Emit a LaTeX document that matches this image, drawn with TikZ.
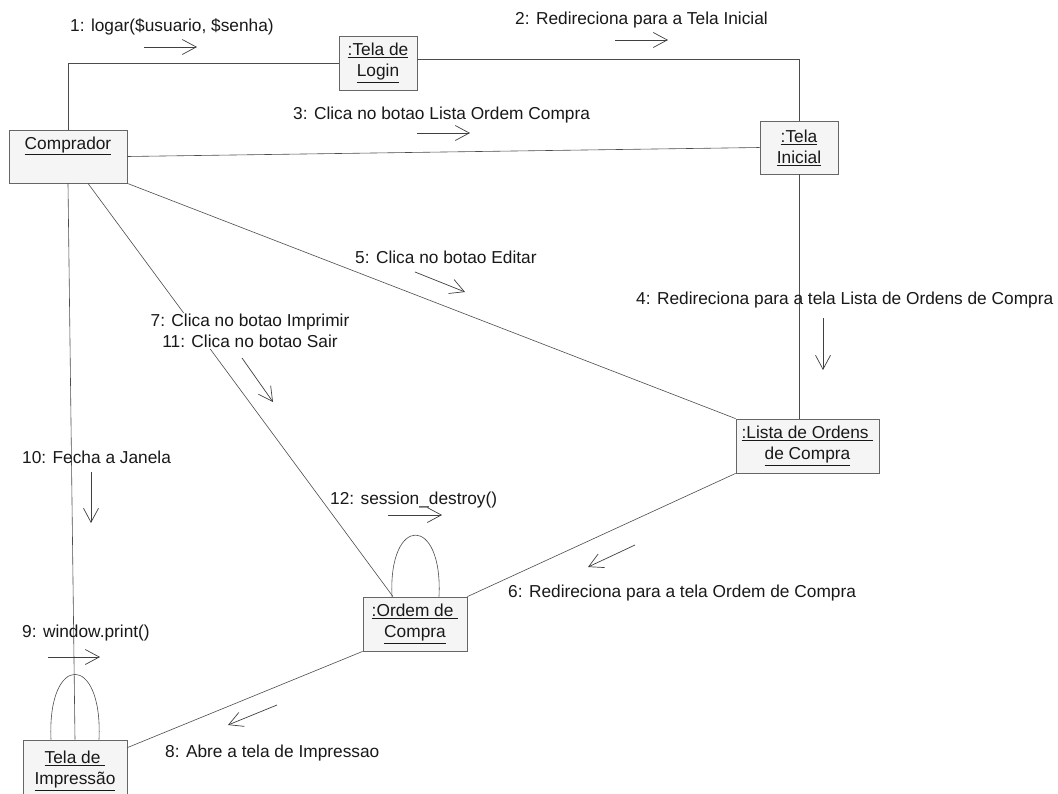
\documentclass[tikz,border=0pt]{standalone}
\usepackage{fontspec}
\setmainfont{Liberation Sans}
\usetikzlibrary{arrows.meta}
\begin{document}
\begin{tikzpicture}[x=1pt,y=-1pt,
  obj/.style={draw=black!60, fill=black!4, line width=0.8pt, align=center, inner sep=0pt, font=\fontsize{17.3}{21}\selectfont, text=black!90},
  lbl/.style={font=\fontsize{17.3}{21}\selectfont, inner sep=0pt, text=black!90},
  link/.style={draw=black!70, line width=0.6pt},
  msg/.style={draw=black!75, line width=0.7pt, -{Straight Barb[length=14pt,width=15pt]}},
]
\useasboundingbox[fill=white] (0,0) rectangle (1058,793);

% objects
\node[obj, minimum width=118pt, minimum height=53pt] (comp) at (68,156.5) {\underline{Comprador}\\\strut};
\node[obj, minimum width=78pt, minimum height=54pt] (login) at (378,63) {\underline{:Tela de}\\\underline{Login}};
\node[obj, minimum width=78pt, minimum height=53pt] (ini) at (799,147.5) {\underline{:Tela}\\\underline{Inicial}};
\node[obj, minimum width=143pt, minimum height=54pt] (lista) at (807.5,446) {\underline{:Lista de Ordens\ }\\\underline{de Compra}};
\node[obj, minimum width=104pt, minimum height=54pt] (ordem) at (415,624) {\underline{:Ordem de\ }\\\underline{Compra}};
\node[obj, minimum width=104pt, minimum height=62pt] (imp) at (75,771) {\underline{Tela de\ }\\\underline{Impressão}};

% links
\draw[link] (comp.north) |- (login.west);
\draw[link] ([yshift=4pt]login.east) -| (ini.north);
\draw[link] (comp.east) -- (ini.west);
\draw[link] (ini.south) -- (ini.south |- lista.north);
\draw[link] (comp.south east) -- (lista.north west);
\draw[link] ([xshift=20pt]comp.south) -- ([xshift=-22pt]ordem.north);
\draw[link] (comp.south) -- (imp.north);
\draw[link] (ordem.north east) -- (lista.south west);
\draw[link] (ordem.south west) -- ([yshift=-8pt]imp.north east);
\draw[link] ([xshift=-23pt]ordem.north) .. controls +(-4,-82) and +(4,-82) .. ([xshift=24pt]ordem.north);
\draw[link] ([xshift=-24pt]imp.north) .. controls +(-4,-87) and +(4,-87) .. ([xshift=24pt]imp.north);

% message labels
\node[lbl, anchor=west] (m1) at (70,27) {1: logar(\$usuario, \$senha)};
\node[lbl, anchor=west] (m2) at (515,20) {2: Redireciona para a Tela Inicial};
\node[lbl, anchor=west] (m3) at (293,115) {3: Clica no botao Lista Ordem Compra};
\node[lbl, anchor=west] (m4) at (636,300) {4: Redireciona para a tela Lista de Ordens de Compra};
\node[lbl, anchor=west] (m5) at (355,257) {5: Clica no botao Editar};
\node[lbl, anchor=west] (m6) at (508,593) {6: Redireciona para a tela Ordem de Compra};
\node[lbl, align=center, fill=white, inner sep=1pt] (m7) at (250,331) {7: Clica no botao Imprimir\\11: Clica no botao Sair};
\node[lbl, anchor=west] (m8) at (165,753) {8: Abre a tela de Impressao};
\node[lbl, anchor=west] (m9) at (22,633) {9: window.print()};
\node[lbl, anchor=west] (m10) at (22,457) {10: Fecha a Janela};
\node[lbl, anchor=west] (m12) at (330,500) {12: session\_destroy()};

% message arrows
\coordinate (a1s) at (144,47);  \coordinate (a1e) at (197,47);
\coordinate (a2s) at (615,40);  \coordinate (a2e) at (668,40);
\coordinate (a3s) at (417,133); \coordinate (a3e) at (470,133);
\coordinate (a4s) at (823,318); \coordinate (a4e) at (823,370);
\coordinate (a5s) at (415,272); \coordinate (a5e) at (465,292);
\coordinate (a6s) at (635,545); \coordinate (a6e) at (588,567);
\coordinate (a7s) at (242,358); \coordinate (a7e) at (273,402);
\coordinate (a8s) at (277,705); \coordinate (a8e) at (228,725);
\coordinate (a9s) at (48,657);  \coordinate (a9e) at (100,657);
\coordinate (a10s) at (91,472); \coordinate (a10e) at (91,523);
\coordinate (a12s) at (388,515); \coordinate (a12e) at (442,515);
\foreach \i in {1,2,3,4,5,6,7,8,9,10,12} {\draw[msg] (a\i s) -- (a\i e);}
\end{tikzpicture}
\end{document}
